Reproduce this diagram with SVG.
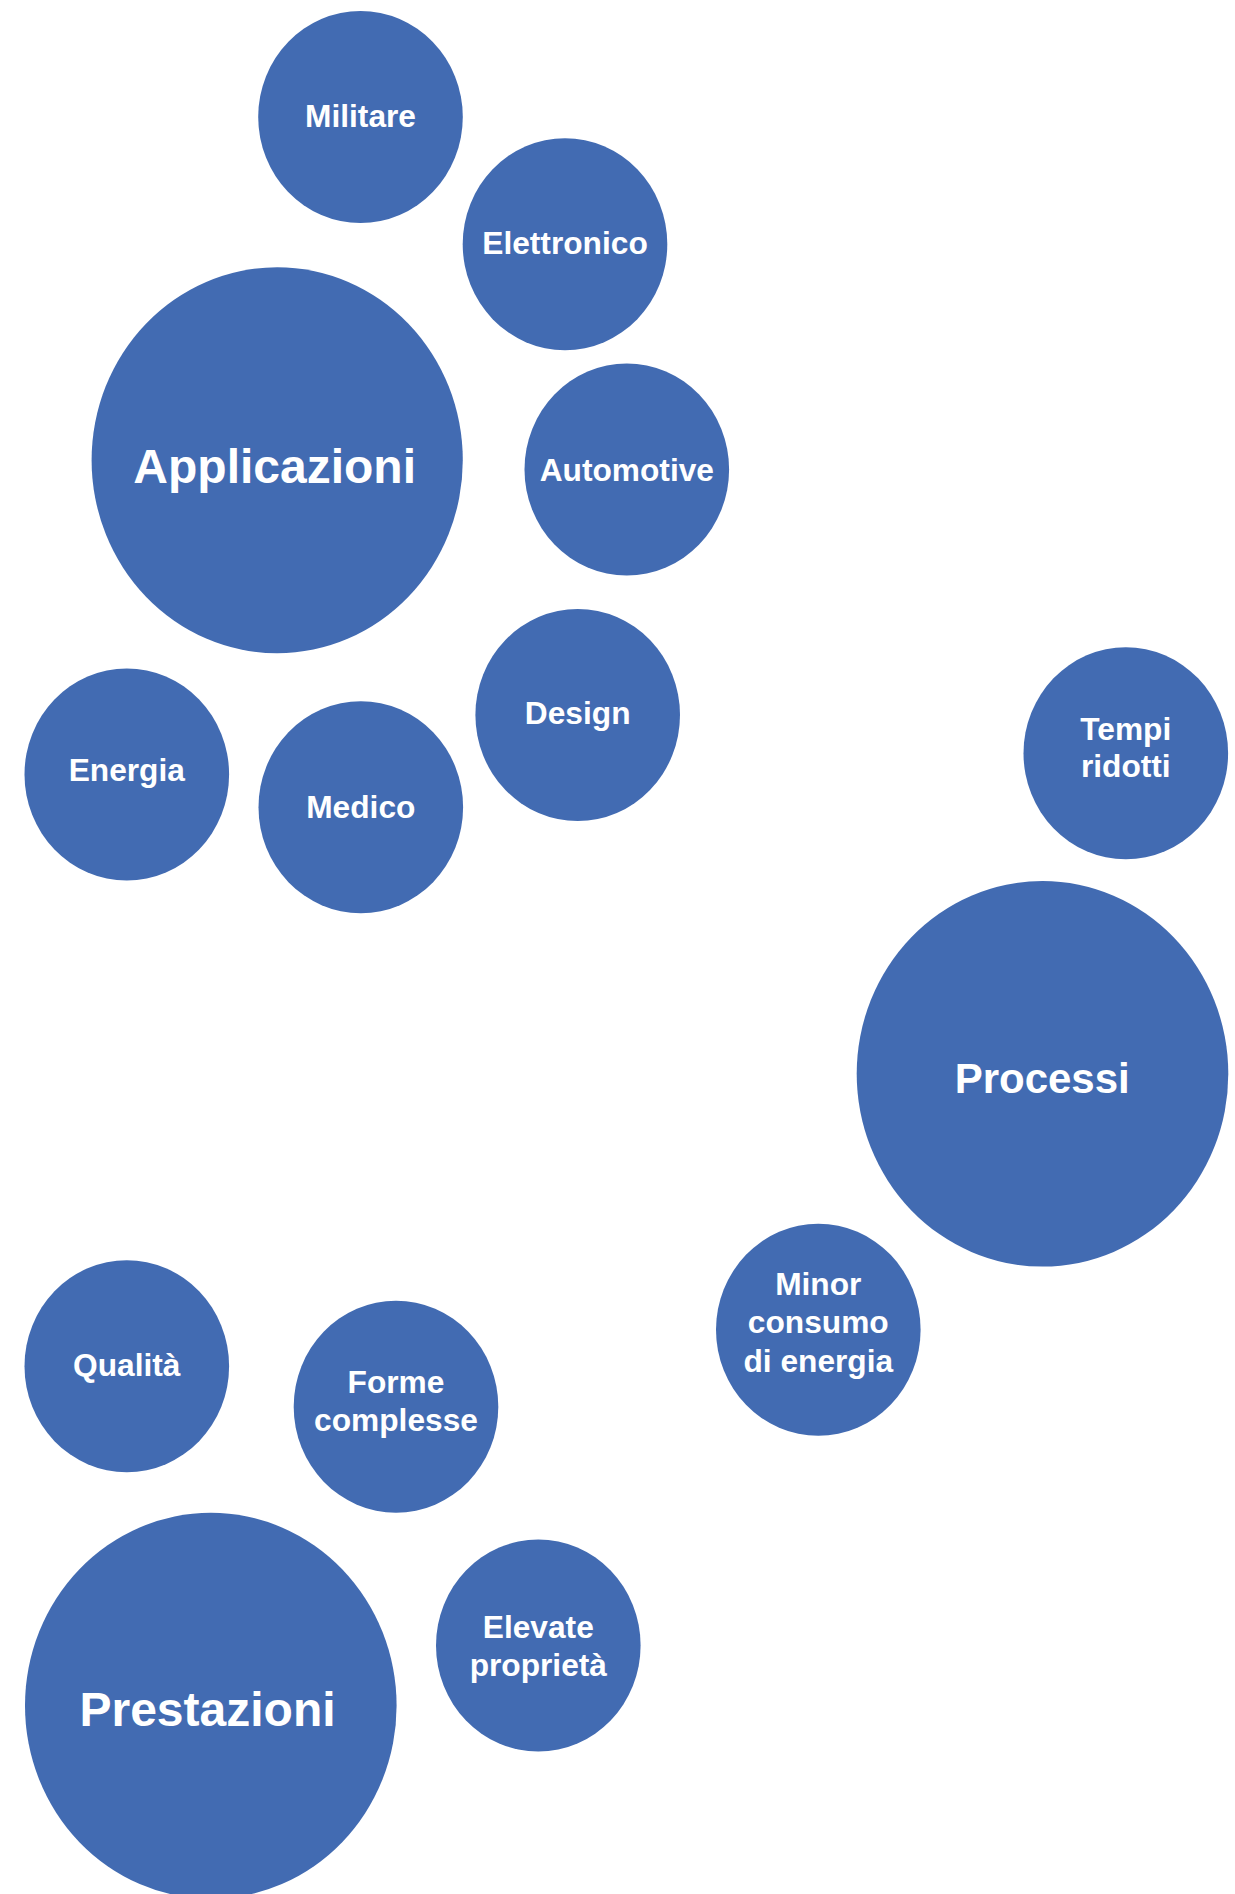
<svg xmlns="http://www.w3.org/2000/svg" width="1235" height="1894" viewBox="0 0 1235 1894">
<style>
.b{fill:#426BB2}
.t{fill:#FFFFFF;font-family:"Liberation Sans",Arial,sans-serif;font-weight:bold;text-anchor:middle}
.s{font-size:31.7px}
.l{font-size:48px}
.m{font-size:42px}
</style>
<rect width="1235" height="1894" fill="#FFFFFF"/>
<g id="connectors"/>
<g id="militare"><ellipse class="b" cx="360.5" cy="117" rx="102.3" ry="106"/><text class="t s" x="360.5" y="126.7">Militare</text></g>
<g id="elettronico"><ellipse class="b" cx="565" cy="244.2" rx="102.3" ry="106"/><text class="t s" x="565" y="254">Elettronico</text></g>
<g id="applicazioni"><ellipse class="b" cx="277.2" cy="460.2" rx="185.6" ry="193"/><text class="t l" x="274.7" y="482.7">Applicazioni</text></g>
<g id="automotive"><ellipse class="b" cx="626.8" cy="469.5" rx="102.3" ry="106"/><text class="t s" x="626.8" y="480.7">Automotive</text></g>
<g id="design"><ellipse class="b" cx="577.7" cy="715" rx="102.3" ry="106"/><text class="t s" x="577.7" y="724">Design</text></g>
<g id="energia"><ellipse class="b" cx="126.8" cy="774.5" rx="102.3" ry="106"/><text class="t s" x="126.8" y="781">Energia</text></g>
<g id="medico"><ellipse class="b" cx="360.8" cy="807.2" rx="102.3" ry="106"/><text class="t s" x="360.8" y="818.3">Medico</text></g>
<g id="tempi-ridotti"><ellipse class="b" cx="1125.8" cy="753.3" rx="102.3" ry="106"/><text class="t s" x="1125.8" y="740">Tempi</text><text class="t s" x="1125.8" y="777.3">ridotti</text></g>
<g id="processi"><ellipse class="b" cx="1042.5" cy="1073.8" rx="185.8" ry="192.8"/><text class="t m" x="1042.2" y="1092.7">Processi</text></g>
<g id="minor-consumo"><ellipse class="b" cx="818.3" cy="1329.8" rx="102.3" ry="106"/><text class="t s" x="818.3" y="1295">Minor</text><text class="t s" x="818.3" y="1333.3">consumo</text><text class="t s" x="818.3" y="1371.7">di energia</text></g>
<g id="qualita"><ellipse class="b" cx="126.8" cy="1366.2" rx="102.3" ry="106"/><text class="t s" x="126.8" y="1376">Qualità</text></g>
<g id="forme-complesse"><ellipse class="b" cx="396" cy="1406.7" rx="102.3" ry="106"/><text class="t s" x="396" y="1393.3">Forme</text><text class="t s" x="396" y="1431">complesse</text></g>
<g id="elevate-proprieta"><ellipse class="b" cx="538.3" cy="1645.5" rx="102.3" ry="106"/><text class="t s" x="538.3" y="1637.7">Elevate</text><text class="t s" x="538.3" y="1676">proprietà</text></g>
<g id="prestazioni"><ellipse class="b" cx="210.8" cy="1705.7" rx="185.8" ry="193"/><text class="t l" x="207.5" y="1726">Prestazioni</text></g>
</svg>
